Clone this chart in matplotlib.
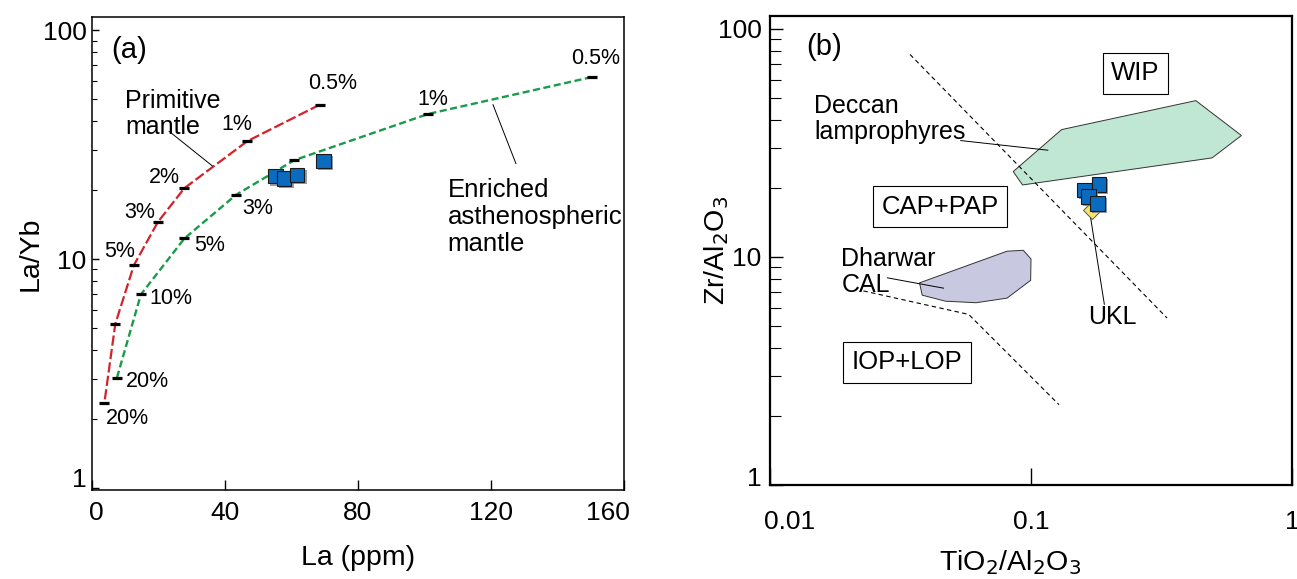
import matplotlib
matplotlib.use('Agg')
import matplotlib.pyplot as plt
import matplotlib.patheffects as pe
from matplotlib.ticker import NullLocator, NullFormatter, LogLocator
from matplotlib.transforms import ScaledTranslation

plt.rcParams['font.family'] = ['Liberation Sans', 'DejaVu Sans']

# ---- panel (a): La vs La/Yb, melting curves ----
pm_la = [68.5, 46.7, 27.8, 19.8, 12.6, 7.0, 3.7]          # primitive mantle
pm_layb = [47.2, 32.7, 20.4, 14.5, 9.4, 5.2, 2.34]
pm_pct = ['0.5%', '1%', '2%', '3%', '5%', '', '20%']

eam_la = [150.3, 101.1, 60.8, 43.4, 27.8, 14.7, 7.5]      # enriched asthenospheric mantle
eam_layb = [62.3, 43.0, 27.0, 19.1, 12.3, 7.0, 3.03]
eam_pct = ['0.5%', '1%', '', '3%', '5%', '10%', '20%']

samp_la = [55.2, 57.8, 61.7, 69.6]
samp_layb = [23.0, 22.5, 23.3, 26.8]

# ---- panel (b): TiO2/Al2O3 vs Zr/Al2O3 ----
deccan_ti = [0.0855, 0.131, 0.428, 0.640, 0.494, 0.0928]
deccan_zr = [23.7, 36.2, 48.5, 34.1, 27.2, 20.7]
dharwar_ti = [0.0374, 0.0809, 0.0934, 0.100, 0.0997, 0.0809, 0.0616, 0.047, 0.0383]
dharwar_zr = [7.7, 10.6, 10.7, 9.8, 7.9, 6.6, 6.3, 6.4, 6.8]
upper_div_ti = [0.0344, 0.332]
upper_div_zr = [77.3, 5.4]
lower_div_ti = [0.0228, 0.0577, 0.128]
lower_div_zr = [7.1, 5.6, 2.25]
ukl_ti = [0.160, 0.182, 0.166, 0.180]
ukl_zr = [19.7, 20.8, 18.4, 17.2]
yellow_ti = [0.171]
yellow_zr = [16.1]

red = '#d2232a'
green = '#1a9a4a'
blue = '#0b6cbf'

fig = plt.figure(figsize=(12.97, 5.79), dpi=100)
axa = fig.add_axes([92 / 1297, 89 / 579, 532 / 1297, 473 / 579])
axb = fig.add_axes([770 / 1297, 94 / 579, 522 / 1297, 469 / 579])

# ---------- (a) ----------
ax = axa
ax.set_yscale('log')
ax.plot(pm_la, pm_layb, color=red, lw=1.6, dashes=(4.6, 1.5), zorder=2)
ax.plot(eam_la, eam_layb, color=green, lw=1.7, dashes=(3.0, 1.5), zorder=2)
ax.plot(pm_la, pm_layb, ls='none', marker='_', ms=7.5, mew=2.3, color='k', zorder=3)
ax.plot(eam_la, eam_layb, ls='none', marker='_', ms=7.5, mew=2.3, color='k', zorder=3)
shadow = [pe.SimplePatchShadow(offset=(1.5, -1.5), shadow_rgbFace='0.45', alpha=0.7), pe.Normal()]
for x, y in zip(samp_la, samp_layb):
    ax.plot([x], [y], ls='none', marker='s', ms=10.5, mfc=blue, mec='#1a1a1a', mew=0.8,
            zorder=4, path_effects=shadow)

pct_fs = 15.5
pm_lab_pos = [(72.3, 58.4), (43.6, 38.7), (21.8, 22.8), (14.3, 16.0), (8.2, 10.8), None, (10.7, 2.01)]
eam_lab_pos = [(151.4, 75.0), (102.6, 49.5), None, (49.8, 16.6), (35.3, 11.4), (23.7, 6.7), (16.8, 2.93)]
for lab, pos in zip(pm_pct, pm_lab_pos):
    if lab:
        ax.text(pos[0], pos[1], lab, fontsize=pct_fs, ha='center', va='center')
for lab, pos in zip(eam_pct, eam_lab_pos):
    if lab:
        ax.text(pos[0], pos[1], lab, fontsize=pct_fs, ha='center', va='center')

ax.text(11.2, 82, '(a)', fontsize=21, ha='center', va='center')
ax.text(10.0, 43, 'Primitive\nmantle', fontsize=18, ha='left', va='center', linespacing=1.1)
ax.plot([23.2, 36.2], [36.1, 25.5], color='k', lw=0.7)
ax.text(106.9, 15.3, 'Enriched\nasthenospheric\nmantle', fontsize=18.5, ha='left', va='center',
        linespacing=1.15)
ax.plot([120.6, 127.5], [47.2, 26.1], color='k', lw=0.7)

ax.set_xlim(0, 160)
ax.set_ylim(0.98, 114)
ax.set_xticks([0, 40, 80, 120, 160])
ax.set_yticks([1, 10, 100], ['1', '10', '100'])
ax.yaxis.set_minor_locator(LogLocator(base=10, subs=range(2, 10)))
ax.yaxis.set_minor_formatter(NullFormatter())
ax.tick_params(which='both', direction='in', top=False, right=False, labelsize=19)
ax.tick_params(axis='x', which='major', length=7, width=1, pad=8)
ax.tick_params(axis='y', which='major', length=5, width=1, pad=4)
ax.tick_params(axis='y', which='minor', length=3.5, width=0.8)
for s in ax.spines.values():
    s.set_linewidth(1.1)
ax.set_xlabel('La (ppm)', fontsize=20.5)
ax.set_ylabel('La/Yb', fontsize=20.5)
ax.xaxis.set_label_coords(0.5, -0.117)
ax.yaxis.set_label_coords(-0.09, 0.5)

# ---------- (b) ----------
ax = axb
ax.set_xscale('log')
ax.set_yscale('log')
ax.fill(deccan_ti, deccan_zr, facecolor='#c0e6d4', edgecolor='#333333', lw=0.7, zorder=1)
ax.fill(dharwar_ti, dharwar_zr, facecolor='#c8c9e0', edgecolor='#333333', lw=0.7, zorder=1)
ax.plot(upper_div_ti, upper_div_zr, color='k', lw=0.8, dashes=(4, 3), zorder=2)
ax.plot(lower_div_ti, lower_div_zr, color='k', lw=0.8, dashes=(4, 3), zorder=2)
ax.plot(yellow_ti, yellow_zr, ls='none', marker='D', ms=9, mfc='#f4e46c', mec='#555555',
        mew=0.7, zorder=3)
for x, y in zip(ukl_ti, ukl_zr):
    ax.plot([x], [y], ls='none', marker='s', ms=10.5, mfc=blue, mec='#1a1a1a', mew=0.8,
            zorder=4, path_effects=shadow)

box = dict(boxstyle='square,pad=0.33', facecolor='white', edgecolor='k', lw=0.8)
ax.text(0.0161, 83, '(b)', fontsize=21, ha='center', va='center')
ax.text(0.251, 64, 'WIP', fontsize=18.5, ha='center', va='center', bbox=box)
ax.text(0.0448, 16.6, 'CAP+PAP', fontsize=18.5, ha='center', va='center', bbox=box)
ax.text(0.0334, 3.45, 'IOP+LOP', fontsize=18.5, ha='center', va='center', bbox=box)
ax.text(0.0148, 40.2, 'Deccan\nlamprophyres', fontsize=18, ha='left', va='center',
        linespacing=1.1)
ax.plot([0.0538, 0.116], [32.4, 29.4], color='k', lw=0.7)
ax.text(0.01875, 8.6, 'Dharwar\nCAL', fontsize=18, ha='left', va='center', linespacing=1.1)
ax.plot([0.0282, 0.0462], [8.1, 7.3], color='k', lw=0.7)
ax.text(0.205, 5.45, 'UKL', fontsize=18, ha='center', va='center')
ax.plot([0.169, 0.191], [15.0, 6.2], color='k', lw=0.7, zorder=2.5)

ax.set_xlim(0.01, 1)
ax.set_ylim(1, 114)
ax.set_xticks([0.01, 0.1, 1], ['0.01', '0.1', '1'])
ax.xaxis.set_minor_locator(NullLocator())
ax.set_yticks([1, 10, 100], ['1', '10', '100'])
ax.yaxis.set_minor_locator(LogLocator(base=10, subs=range(2, 10)))
ax.yaxis.set_minor_formatter(NullFormatter())
ax.tick_params(which='both', direction='in', top=False, right=False, labelsize=19)
ax.tick_params(axis='x', which='major', length=12, width=1, pad=18)
ax.tick_params(axis='y', which='major', length=9, width=1, pad=6)
ax.tick_params(axis='y', which='minor', length=8, width=0.8)
for s in ax.spines.values():
    s.set_linewidth(1.6)
ax.set_xlabel('TiO$_2$/Al$_2$O$_3$', fontsize=20.5)
ax.set_ylabel('Zr/Al$_2$O$_3$', fontsize=20.5)
ax.xaxis.set_label_coords(0.46, -0.135)
ax.yaxis.set_label_coords(-0.074, 0.5)

# small label nudges seen in the original figure
def nudge(label, dx_px, dy_px):
    label.set_transform(label.get_transform() +
                        ScaledTranslation(dx_px / 100, dy_px / 100, fig.dpi_scale_trans))

nudge(axa.yaxis.get_major_ticks()[0].label1, 0, 10)
nudge(axb.yaxis.get_major_ticks()[0].label1, 0, 8)
nudge(axa.xaxis.get_major_ticks()[0].label1, 4, 0)
nudge(axa.xaxis.get_major_ticks()[-1].label1, -16, 0)
nudge(axb.xaxis.get_major_ticks()[0].label1, 20, 0)

fig.savefig('out.png', dpi=100)
